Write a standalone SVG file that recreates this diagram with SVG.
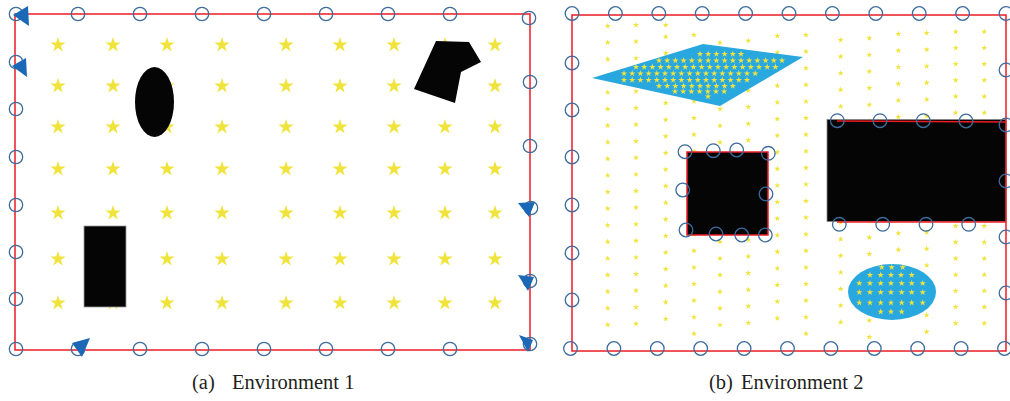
<svg xmlns="http://www.w3.org/2000/svg" xmlns:xlink="http://www.w3.org/1999/xlink" width="1010" height="401" viewBox="0 0 1010 401">
<style>
.border{fill:none;stroke:#ec1c24;stroke-width:1.5}
.node{fill:none;stroke:#3d6b9b;stroke-width:1.3}
.arrow{fill:#1a68b6}
.star{fill:#f0e43c}
.obst{fill:#050505}
.zone{fill:#29a7df}
.cap{font-family:"Liberation Serif",serif;font-size:20.5px;fill:#231f20}
</style>
<defs>
<path id="sb" class="star" d="M0,-8L1.8,-2.47L7.61,-2.47L2.9,0.94L4.7,6.47L0,3.06L-4.7,6.47L-2.9,0.94L-7.61,-2.47L-1.8,-2.47Z"/>
<path id="ss" class="star" d="M0,-3.2L0.72,-0.99L3.04,-0.99L1.16,0.38L1.88,2.59L0,1.22L-1.88,2.59L-1.16,0.38L-3.04,-0.99L-0.72,-0.99Z"/>
<path id="sm" class="star" d="M0,-3.4L0.76,-1.05L3.23,-1.05L1.23,0.4L2,2.75L0,1.3L-2,2.75L-1.23,0.4L-3.23,-1.05L-0.76,-1.05Z"/>
<g id="c18">
<use href="#ss" y="0"/><use href="#ss" y="16.6"/><use href="#ss" y="33.2"/><use href="#ss" y="49.8"/><use href="#ss" y="66.4"/><use href="#ss" y="83"/><use href="#ss" y="99.6"/><use href="#ss" y="116.2"/><use href="#ss" y="132.8"/><use href="#ss" y="149.4"/><use href="#ss" y="166"/><use href="#ss" y="182.6"/><use href="#ss" y="199.2"/><use href="#ss" y="215.8"/><use href="#ss" y="232.4"/><use href="#ss" y="249"/><use href="#ss" y="265.6"/><use href="#ss" y="282.2"/>
</g>
<g id="c19"><use href="#c18"/><use href="#ss" y="298.8"/></g>
<g id="c19b">
<use href="#ss" y="0"/><use href="#ss" y="16.2"/><use href="#ss" y="32.4"/><use href="#ss" y="48.6"/><use href="#ss" y="64.8"/><use href="#ss" y="81"/><use href="#ss" y="97.2"/><use href="#ss" y="113.4"/><use href="#ss" y="129.6"/><use href="#ss" y="145.8"/><use href="#ss" y="162"/><use href="#ss" y="178.2"/><use href="#ss" y="194.4"/><use href="#ss" y="210.6"/><use href="#ss" y="226.8"/><use href="#ss" y="243"/><use href="#ss" y="259.2"/><use href="#ss" y="275.4"/><use href="#ss" y="291.6"/>
</g>
<g id="lrow">
<use href="#sb" x="58"/><use href="#sb" x="113"/><use href="#sb" x="167"/><use href="#sb" x="222"/><use href="#sb" x="286"/><use href="#sb" x="340"/><use href="#sb" x="394"/><use href="#sb" x="445"/><use href="#sb" x="495"/>
</g>
<g id="er7">
<use href="#sm" x="859.3"/><use href="#sm" x="870"/><use href="#sm" x="880.7"/><use href="#sm" x="891"/><use href="#sm" x="901.7"/><use href="#sm" x="911.7"/><use href="#sm" x="922.7"/>
</g>
</defs>
<rect width="1010" height="401" fill="#ffffff"/>

<!-- ===== Environment 1 ===== -->
<g id="env1">
<g id="env1-stars">
<use href="#lrow" y="45"/><use href="#lrow" y="86"/><use href="#lrow" y="127"/><use href="#lrow" y="169"/><use href="#lrow" y="213"/><use href="#lrow" y="259"/><use href="#lrow" y="303"/>
</g>
<g id="env1-obstacles">
<ellipse id="obs-ellipse" class="obst" cx="154.5" cy="102" rx="19.5" ry="35"/>
<polygon id="obs-poly" class="obst" points="436,41 469,42 481,62 461,72 455,103 414,89"/>
<rect id="obs-rect" class="obst" x="84" y="226" width="42" height="81" stroke="#999" stroke-width="0.8"/>
</g>
<rect id="env1-border" class="border" x="15" y="14" width="515" height="336"/>
<g id="env1-nodes">
<circle class="node" cx="16" cy="14" r="6.7"/><circle class="node" cx="78" cy="14" r="6.7"/><circle class="node" cx="140" cy="14" r="6.7"/><circle class="node" cx="202" cy="14" r="6.7"/><circle class="node" cx="264" cy="14" r="6.7"/><circle class="node" cx="326" cy="14" r="6.7"/><circle class="node" cx="388" cy="14" r="6.7"/><circle class="node" cx="450" cy="14" r="6.7"/><circle class="node" cx="529" cy="18" r="6.7"/>
<circle class="node" cx="16" cy="62" r="6.7"/><circle class="node" cx="16" cy="109" r="6.7"/><circle class="node" cx="16" cy="157" r="6.7"/><circle class="node" cx="16" cy="205" r="6.7"/><circle class="node" cx="16" cy="252" r="6.7"/><circle class="node" cx="16" cy="299" r="6.7"/>
<circle class="node" cx="16" cy="349" r="6.7"/><circle class="node" cx="78" cy="349" r="6.7"/><circle class="node" cx="140" cy="349" r="6.7"/><circle class="node" cx="202" cy="349" r="6.7"/><circle class="node" cx="264" cy="349" r="6.7"/><circle class="node" cx="326" cy="349" r="6.7"/><circle class="node" cx="388" cy="349" r="6.7"/><circle class="node" cx="450" cy="349" r="6.7"/>
<circle class="node" cx="530" cy="82" r="6.7"/><circle class="node" cx="530" cy="146" r="6.7"/><circle class="node" cx="531" cy="208" r="6.7"/><circle class="node" cx="530" cy="281" r="6.7"/><circle class="node" cx="530" cy="344" r="6.7"/>
</g>
<g id="env1-agents">
<polygon class="arrow" points="13,15 28,6 29,26"/>
<polygon class="arrow" points="12,66 26,58 27,77"/>
<polygon class="arrow" points="518,203 535,202 529,217"/>
<polygon class="arrow" points="518,275 534,277 528,291"/>
<polygon class="arrow" points="519,335 533,340 528,352"/>
<polygon class="arrow" points="72,343 90,338 82,357"/>
</g>
</g>

<!-- ===== Environment 2 ===== -->
<g id="env2">
<g id="env2-stars">
<use href="#c19" x="607.7" y="26"/>
<use href="#c19" x="636" y="25"/>
<use href="#ss" x="665.7" y="25"/><use href="#c18" x="665.7" y="36.7"/>
<use href="#c19" x="694" y="35"/>
<use href="#c18" x="720" y="42.7"/>
<use href="#c18" x="748.3" y="40.7"/>
<use href="#c18" x="777.3" y="36"/>
<use href="#c19" x="806" y="35"/>
<use href="#c18" x="840.7" y="40"/>
<use href="#c19" x="869.3" y="38.3"/>
<use href="#c18" x="898.3" y="34"/>
<use href="#c19" x="926.7" y="33"/>
<use href="#c19b" x="955.7" y="31.7"/>
<use href="#c19b" x="984.3" y="31.7"/>
</g>
<g id="zone-quad">
<polygon class="zone" points="592,78 703,44 803,57 720,106"/>
<use href="#sm" x="700" y="54"/><use href="#sm" x="708.2" y="54"/><use href="#sm" x="716.4" y="54"/><use href="#sm" x="724.6" y="54"/><use href="#sm" x="732.8" y="54"/><use href="#sm" x="741" y="54"/>
<use href="#sm" x="659" y="60.5"/><use href="#sm" x="667.2" y="60.5"/><use href="#sm" x="675.4" y="60.5"/><use href="#sm" x="683.6" y="60.5"/><use href="#sm" x="691.8" y="60.5"/><use href="#sm" x="700" y="60.5"/><use href="#sm" x="708.2" y="60.5"/><use href="#sm" x="716.4" y="60.5"/><use href="#sm" x="724.6" y="60.5"/><use href="#sm" x="732.8" y="60.5"/><use href="#sm" x="741" y="60.5"/><use href="#sm" x="749.2" y="60.5"/><use href="#sm" x="757.4" y="60.5"/><use href="#sm" x="765.6" y="60.5"/><use href="#sm" x="773.8" y="60.5"/><use href="#sm" x="782" y="60.5"/>
<use href="#sm" x="636" y="67"/><use href="#sm" x="644.2" y="67"/><use href="#sm" x="652.4" y="67"/><use href="#sm" x="660.6" y="67"/><use href="#sm" x="668.8" y="67"/><use href="#sm" x="677" y="67"/><use href="#sm" x="685.2" y="67"/><use href="#sm" x="693.4" y="67"/><use href="#sm" x="701.6" y="67"/><use href="#sm" x="709.8" y="67"/><use href="#sm" x="718" y="67"/><use href="#sm" x="726.2" y="67"/><use href="#sm" x="734.4" y="67"/><use href="#sm" x="742.6" y="67"/><use href="#sm" x="750.8" y="67"/><use href="#sm" x="759" y="67"/><use href="#sm" x="767.2" y="67"/><use href="#sm" x="775.4" y="67"/>
<use href="#sm" x="624" y="73.5"/><use href="#sm" x="632.2" y="73.5"/><use href="#sm" x="640.4" y="73.5"/><use href="#sm" x="648.6" y="73.5"/><use href="#sm" x="656.8" y="73.5"/><use href="#sm" x="665" y="73.5"/><use href="#sm" x="673.2" y="73.5"/><use href="#sm" x="681.4" y="73.5"/><use href="#sm" x="689.6" y="73.5"/><use href="#sm" x="697.8" y="73.5"/><use href="#sm" x="706" y="73.5"/><use href="#sm" x="714.2" y="73.5"/><use href="#sm" x="722.4" y="73.5"/><use href="#sm" x="730.6" y="73.5"/><use href="#sm" x="738.8" y="73.5"/><use href="#sm" x="747" y="73.5"/><use href="#sm" x="755.2" y="73.5"/>
<use href="#sm" x="624" y="80"/><use href="#sm" x="632.2" y="80"/><use href="#sm" x="640.4" y="80"/><use href="#sm" x="648.6" y="80"/><use href="#sm" x="656.8" y="80"/><use href="#sm" x="665" y="80"/><use href="#sm" x="673.2" y="80"/><use href="#sm" x="681.4" y="80"/><use href="#sm" x="689.6" y="80"/><use href="#sm" x="697.8" y="80"/><use href="#sm" x="706" y="80"/><use href="#sm" x="714.2" y="80"/><use href="#sm" x="722.4" y="80"/><use href="#sm" x="730.6" y="80"/><use href="#sm" x="738.8" y="80"/><use href="#sm" x="747" y="80"/>
<use href="#sm" x="659" y="86"/><use href="#sm" x="667.2" y="86"/><use href="#sm" x="675.4" y="86"/><use href="#sm" x="683.6" y="86"/><use href="#sm" x="691.8" y="86"/><use href="#sm" x="700" y="86"/><use href="#sm" x="708.2" y="86"/><use href="#sm" x="716.4" y="86"/><use href="#sm" x="724.6" y="86"/><use href="#sm" x="732.8" y="86"/>
<use href="#sm" x="675" y="91.5"/><use href="#sm" x="683.2" y="91.5"/><use href="#sm" x="691.4" y="91.5"/><use href="#sm" x="699.6" y="91.5"/><use href="#sm" x="707.8" y="91.5"/><use href="#sm" x="716" y="91.5"/><use href="#sm" x="724.2" y="91.5"/>
<use href="#sm" x="708" y="96.5"/>
</g>
<g id="obs-square">
<rect class="obst" x="687" y="152" width="81" height="83" stroke="#ec1c24" stroke-width="1.5"/>
</g>
<g id="obs-block">
<rect class="obst" x="827" y="119.5" width="179" height="102" stroke="#888" stroke-width="0.8"/>
<line x1="837" y1="121" x2="1006" y2="122" stroke="#ec1c24" stroke-width="1.5"/>
<line x1="837" y1="222" x2="1006" y2="222" stroke="#ec1c24" stroke-width="1.5"/>
</g>
<g id="zone-ellipse">
<ellipse class="zone" cx="892" cy="292" rx="44" ry="28"/>
<use href="#sm" x="881.7" y="267.3"/><use href="#sm" x="891.7" y="267.3"/><use href="#sm" x="902.7" y="267.3"/>
<use href="#sm" x="870" y="275"/><use href="#sm" x="880.7" y="275"/><use href="#sm" x="891" y="275"/><use href="#sm" x="901" y="275"/><use href="#sm" x="911.7" y="275"/>
<use href="#er7" y="283.3"/><use href="#er7" y="292.3"/><use href="#er7" y="302.7"/>
<use href="#sm" x="880.7" y="311.7"/><use href="#sm" x="891" y="311.7"/><use href="#sm" x="901.7" y="311.7"/>
</g>
<rect id="env2-border" class="border" x="572" y="15" width="434" height="336"/>
<g id="env2-nodes">
<circle class="node" cx="572" cy="13.5" r="6.8"/><circle class="node" cx="615.4" cy="13.5" r="6.8"/><circle class="node" cx="658.8" cy="13.5" r="6.8"/><circle class="node" cx="702.2" cy="13.5" r="6.8"/><circle class="node" cx="745.6" cy="13.5" r="6.8"/><circle class="node" cx="789" cy="13.5" r="6.8"/><circle class="node" cx="832.4" cy="13.5" r="6.8"/><circle class="node" cx="875.8" cy="13.5" r="6.8"/><circle class="node" cx="919.2" cy="13.5" r="6.8"/><circle class="node" cx="962.6" cy="13.5" r="6.8"/><circle class="node" cx="1006" cy="13.5" r="6.8"/>
<circle class="node" cx="570.5" cy="348.5" r="6.8"/><circle class="node" cx="613.9" cy="348.5" r="6.8"/><circle class="node" cx="657.3" cy="348.5" r="6.8"/><circle class="node" cx="700.7" cy="348.5" r="6.8"/><circle class="node" cx="744.1" cy="348.5" r="6.8"/><circle class="node" cx="787.5" cy="348.5" r="6.8"/><circle class="node" cx="830.9" cy="348.5" r="6.8"/><circle class="node" cx="874.3" cy="348.5" r="6.8"/><circle class="node" cx="917.7" cy="348.5" r="6.8"/><circle class="node" cx="961.1" cy="348.5" r="6.8"/><circle class="node" cx="1004.5" cy="348.5" r="6.8"/>
<circle class="node" cx="572" cy="63" r="6.8"/><circle class="node" cx="572" cy="110" r="6.8"/><circle class="node" cx="572" cy="157" r="6.8"/><circle class="node" cx="572" cy="205" r="6.8"/><circle class="node" cx="572" cy="253" r="6.8"/><circle class="node" cx="572" cy="300" r="6.8"/>
<circle class="node" cx="1006" cy="70" r="6.8"/><circle class="node" cx="1006" cy="125" r="6.8"/><circle class="node" cx="1006" cy="181" r="6.8"/><circle class="node" cx="1006" cy="237" r="6.8"/><circle class="node" cx="1006" cy="293" r="6.8"/>
<circle class="node" cx="685" cy="151.7" r="6.8"/><circle class="node" cx="713.3" cy="150.7" r="6.8"/><circle class="node" cx="736.7" cy="150" r="6.8"/><circle class="node" cx="768.3" cy="153.3" r="6.8"/><circle class="node" cx="682.7" cy="190" r="6.8"/><circle class="node" cx="766" cy="194" r="6.8"/><circle class="node" cx="686" cy="230" r="6.8"/><circle class="node" cx="716" cy="234" r="6.8"/><circle class="node" cx="741.7" cy="235" r="6.8"/><circle class="node" cx="765.3" cy="235" r="6.8"/>
<circle class="node" cx="837.3" cy="120.7" r="6.8"/><circle class="node" cx="880" cy="120.7" r="6.8"/><circle class="node" cx="923.3" cy="120.7" r="6.8"/><circle class="node" cx="966" cy="121" r="6.8"/>
<circle class="node" cx="839.3" cy="224.3" r="6.8"/><circle class="node" cx="882.7" cy="224.3" r="6.8"/><circle class="node" cx="926" cy="224.3" r="6.8"/><circle class="node" cx="968.7" cy="224.3" r="6.8"/>
</g>
</g>

<g id="captions">
<text class="cap" y="389"><tspan x="192">(a)</tspan><tspan x="232">Environment 1</tspan></text>
<text class="cap" y="389"><tspan x="709">(b)</tspan><tspan x="741">Environment 2</tspan></text>
</g>
</svg>
